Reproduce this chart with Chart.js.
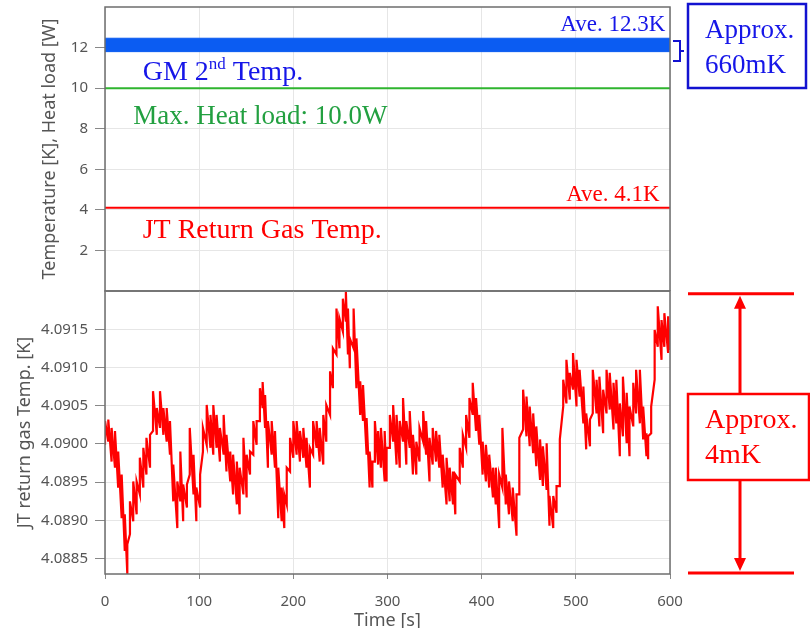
<!DOCTYPE html>
<html>
<head>
<meta charset="utf-8">
<script src="https://cdn.jsdelivr.net/npm/chart.js@4.4.1/dist/chart.umd.min.js"></script>
<style>
body { margin: 0; background: #fff; width: 810px; height: 628px; overflow: hidden; position: relative; }
canvas { position: absolute; left: 0; }
#topChart { top: 0; }
#bottomChart { top: 286px; }
</style>
</head>
<body>
<canvas id="topChart" width="810" height="292"></canvas>
<canvas id="bottomChart" width="810" height="342"></canvas>
<script>
// top panel: constant-ish traces over the whole run
var timeRange = [0, 600];
var gmTempHigh = [12.46, 12.46];
var gmTempLow = [11.80, 11.80];
var heatLoad = [10.0, 10.0];
var jtTempTop = [4.1, 4.1];
var topTicks = [2, 4, 6, 8, 10, 12];

// bottom panel: JT return gas temperature, low/high envelope of the noisy trace
var bottomTicks = [4.0885, 4.0890, 4.0895, 4.0900, 4.0905, 4.0910, 4.0915];
var timeTicks = [0, 100, 200, 300, 400, 500, 600];

var jtTime = [
  0, 3.5, 7, 10.6, 14, 17.7, 21, 23.7, 26.5, 30,
  33.6, 37, 40.7, 44, 47.8, 51, 55, 58.4, 62, 65.5,
  69, 72.5, 76.8, 80, 83, 87, 90, 94, 97, 101,
  104, 108, 112, 115, 118.5, 122, 126, 129, 133, 136,
  140, 143, 147, 150.4, 154, 157.5, 161, 164.5, 167.4, 170,
  173, 177, 180.5, 184, 187.6, 190.4, 193, 196.5, 200, 203.5,
  207, 210.6, 214, 217.6, 221, 224.7, 228, 231.8, 235, 239,
  242, 245.8, 249, 252.6, 255.8, 258, 260, 264, 267, 271,
  274, 277.8, 281, 284, 286.6, 290, 293, 297, 299, 302.5,
  306, 309.6, 313, 316.5, 320, 323.6, 327, 330.6, 334, 337.9,
  341, 344.6, 348, 351.6, 355, 358.6, 362.7, 366, 369.6, 372,
  376.7, 380, 383.5, 387, 390.5, 394, 397.5, 401, 404.5, 408,
  412, 415, 418.6, 422, 425.6, 429, 433, 437, 440, 444,
  447.6, 451, 454.7, 458, 462, 465, 469, 472, 476, 479.5,
  483, 486.6, 490, 493.6, 497, 500.7, 504, 508, 511, 515,
  518, 522, 525, 529, 532.6, 536, 540, 543, 546.7, 550,
  554, 557, 561, 564, 568, 571.5, 575, 576.8, 580, 583.7,
  587, 591, 594, 598, 600
];
var jtLow = [
  4.08999, 4.09003, 4.08977, 4.08969, 4.08943, 4.08903, 4.08860, 4.08830, 4.08882, 4.08899,
  4.08908, 4.08934, 4.08943, 4.08960, 4.08969, 4.09017, 4.09012, 4.09021, 4.09012, 4.09003,
  4.08986, 4.08925, 4.08890, 4.08925, 4.08899, 4.08917, 4.08960, 4.08934, 4.08899, 4.08917,
  4.08990, 4.08999, 4.08995, 4.08986, 4.08995, 4.08977, 4.08986, 4.08964, 4.08951, 4.08934,
  4.08921, 4.08908, 4.08934, 4.08930, 4.08960, 4.08986, 4.08999, 4.09030, 4.09047, 4.09021,
  4.08969, 4.08986, 4.08969, 4.08903, 4.08899, 4.08890, 4.08921, 4.08964, 4.08982, 4.08986,
  4.08977, 4.08982, 4.08969, 4.08943, 4.08986, 4.08995, 4.08977, 4.08973, 4.09003, 4.09038,
  4.09073, 4.09117, 4.09125, 4.09147, 4.09160, 4.09117, 4.09099, 4.09125, 4.09073, 4.09038,
  4.09030, 4.08986, 4.08943, 4.08943, 4.08977, 4.08973, 4.08969, 4.08951, 4.08951, 4.08995,
  4.09003, 4.08973, 4.08969, 4.09003, 4.08973, 4.08995, 4.08960, 4.08960, 4.08977, 4.09003,
  4.08986, 4.08951, 4.08973, 4.08977, 4.08969, 4.08943, 4.08921, 4.08925, 4.08921, 4.08908,
  4.08951, 4.08969, 4.08995, 4.09008, 4.09038, 4.09017, 4.08999, 4.08960, 4.08951, 4.08943,
  4.08930, 4.08921, 4.08890, 4.08943, 4.08921, 4.08908, 4.08899, 4.08880, 4.08934, 4.09019,
  4.09010, 4.08997, 4.08988, 4.08971, 4.08953, 4.08945, 4.08940, 4.08893, 4.08890, 4.08910,
  4.08945, 4.09049, 4.09053, 4.09058, 4.09071, 4.09049, 4.09062, 4.09027, 4.08993, 4.08997,
  4.09040, 4.09040, 4.09023, 4.09014, 4.09040, 4.09045, 4.09019, 4.09027, 4.08984, 4.09010,
  4.09001, 4.08984, 4.09023, 4.09040, 4.09027, 4.09006, 4.08984, 4.08980, 4.09014, 4.09084,
  4.09127, 4.09110, 4.09127, 4.09119, 4.09123
];
var jtHigh = [
  4.09030, 4.09032, 4.09021, 4.09017, 4.08990, 4.08960, 4.08908, 4.08869, 4.08925, 4.08951,
  4.08951, 4.08982, 4.08995, 4.09008, 4.09012, 4.09069, 4.09047, 4.09069, 4.09047, 4.09047,
  4.09030, 4.08973, 4.08951, 4.08990, 4.08947, 4.08947, 4.09021, 4.08986, 4.08943, 4.08960,
  4.09021, 4.09051, 4.09038, 4.09051, 4.09038, 4.09021, 4.09038, 4.09012, 4.08990, 4.08986,
  4.08977, 4.08969, 4.09008, 4.08986, 4.08990, 4.09030, 4.09030, 4.09073, 4.09081, 4.09064,
  4.09030, 4.09030, 4.09017, 4.08969, 4.08943, 4.08934, 4.08969, 4.09008, 4.09030, 4.09030,
  4.09017, 4.09021, 4.09008, 4.08995, 4.09030, 4.09030, 4.09021, 4.09038, 4.09051, 4.09095,
  4.09125, 4.09177, 4.09164, 4.09190, 4.09199, 4.09177, 4.09138, 4.09177, 4.09138, 4.09082,
  4.09077, 4.09034, 4.08990, 4.08977, 4.09030, 4.09017, 4.09021, 4.09017, 4.08995, 4.09038,
  4.09051, 4.09038, 4.09030, 4.09060, 4.09030, 4.09043, 4.09012, 4.09003, 4.09021, 4.09043,
  4.09030, 4.09008, 4.09021, 4.09017, 4.09012, 4.08986, 4.08982, 4.08969, 4.08964, 4.08960,
  4.08995, 4.09012, 4.09038, 4.09060, 4.09080, 4.09060, 4.09038, 4.09003, 4.08999, 4.08986,
  4.08969, 4.08969, 4.08960, 4.09021, 4.08960, 4.08951, 4.08943, 4.08934, 4.09008, 4.09071,
  4.09062, 4.09049, 4.09040, 4.09023, 4.09006, 4.08997, 4.09001, 4.08932, 4.08932, 4.08945,
  4.09006, 4.09084, 4.09110, 4.09093, 4.09119, 4.09110, 4.09097, 4.09075, 4.09040, 4.09032,
  4.09097, 4.09084, 4.09088, 4.09071, 4.09097, 4.09093, 4.09080, 4.09084, 4.09053, 4.09088,
  4.09067, 4.09049, 4.09080, 4.09097, 4.09097, 4.09049, 4.09014, 4.09010, 4.09049, 4.09149,
  4.09180, 4.09162, 4.09171, 4.09167, 4.09149
];

var sansFont = "'Noto Sans', sans-serif";
var axisGray = '#555555';
var gridGray = '#e6e6e6';
var bandBlue = '#0b5cf2';
var textBlue = '#1616e8';
var boxBlue = '#1212d0';
var lineGreen = '#2fb52f';
var textGreen = '#22a040';
var red = '#ff0000';

Chart.defaults.font.family = sansFont;
Chart.defaults.color = axisGray;

function serif(size) {
  return size + "px 'Liberation Serif', 'Times New Roman', serif";
}
function pairs(xs, ys) {
  return xs.map(function (x, i) { return { x: x, y: ys[i] }; });
}
// keep the plot box exactly where the axes say, no extra label padding
function fixYAxis(scale) {
  scale.width = 105;
  scale.paddingTop = 0;
  scale.paddingBottom = 0;
}

// vertical stroke at each sample from low to high, so the trace looks as dense as the logger output
var jtPoints = [];
jtTime.forEach(function (t, i) {
  jtPoints.push({ x: t, y: jtLow[i] });
  jtPoints.push({ x: t, y: jtHigh[i] });
});

var framePlugin = {
  id: 'frame',
  afterDatasetsDraw: function (chart) {
    var a = chart.chartArea;
    var ctx = chart.ctx;
    ctx.save();
    ctx.strokeStyle = '#6e6e6e';
    ctx.lineWidth = 1.5;
    ctx.strokeRect(a.left, a.top, a.right - a.left, a.bottom - a.top);
    ctx.restore();
  }
};

var topNotesPlugin = {
  id: 'topNotes',
  afterDraw: function (chart) {
    var ctx = chart.ctx;
    var sx = chart.scales.x;
    var sy = chart.scales.y;
    ctx.save();
    ctx.textBaseline = 'alphabetic';

    ctx.fillStyle = textBlue;
    ctx.font = serif(23);
    ctx.textAlign = 'right';
    ctx.fillText('Ave. 12.3K', sx.getPixelForValue(595), sy.getPixelForValue(12.83));

    ctx.textAlign = 'left';
    var gx = sx.getPixelForValue(40);
    var gy = sy.getPixelForValue(10.4);
    ctx.font = serif(28);
    ctx.fillText('GM 2', gx, gy);
    gx += ctx.measureText('GM 2').width;
    ctx.font = serif(17);
    ctx.fillText('nd', gx, gy - 11);
    gx += ctx.measureText('nd').width;
    ctx.font = serif(28);
    ctx.fillText(' Temp.', gx, gy);

    ctx.fillStyle = textGreen;
    ctx.font = serif(27);
    ctx.fillText('Max. Heat load: 10.0W', sx.getPixelForValue(30), sy.getPixelForValue(8.23));

    ctx.fillStyle = red;
    ctx.font = serif(23);
    ctx.textAlign = 'right';
    ctx.fillText('Ave. 4.1K', sx.getPixelForValue(589), sy.getPixelForValue(4.45));
    ctx.textAlign = 'left';
    ctx.font = serif(28);
    ctx.fillText('JT Return Gas Temp.', sx.getPixelForValue(40), sy.getPixelForValue(2.6));

    // bracket and box outside the plot
    ctx.strokeStyle = boxBlue;
    ctx.lineWidth = 2;
    ctx.beginPath();
    ctx.moveTo(673, 41);
    ctx.lineTo(680, 41);
    ctx.lineTo(680, 61);
    ctx.lineTo(673, 61);
    ctx.moveTo(680, 51);
    ctx.lineTo(684, 51);
    ctx.stroke();
    ctx.lineWidth = 2.5;
    ctx.strokeRect(688, 4, 118, 84);
    ctx.fillStyle = textBlue;
    ctx.font = serif(27);
    ctx.fillText('Approx.', 705, 38);
    ctx.fillText('660mK', 705, 73);
    ctx.restore();
  }
};

var rangePlugin = {
  id: 'range',
  afterDraw: function (chart) {
    var ctx = chart.ctx;
    var sy = chart.scales.y;
    var yTop = sy.getPixelForValue(Math.max.apply(null, jtHigh)) + 2;
    var yBot = sy.getPixelForValue(Math.min.apply(null, jtLow)) - 1;
    var ax = 740;
    var boxTop = 108;
    var boxBot = 194;
    ctx.save();
    ctx.strokeStyle = red;
    ctx.fillStyle = red;
    ctx.lineWidth = 3;
    ctx.beginPath();
    ctx.moveTo(688, yTop); ctx.lineTo(794, yTop);
    ctx.moveTo(688, yBot); ctx.lineTo(794, yBot);
    ctx.moveTo(ax, yTop + 12); ctx.lineTo(ax, boxTop);
    ctx.moveTo(ax, boxBot); ctx.lineTo(ax, yBot - 12);
    ctx.stroke();
    ctx.beginPath();
    ctx.moveTo(ax, yTop + 2); ctx.lineTo(ax - 6, yTop + 15); ctx.lineTo(ax + 6, yTop + 15); ctx.closePath();
    ctx.moveTo(ax, yBot - 2); ctx.lineTo(ax - 6, yBot - 15); ctx.lineTo(ax + 6, yBot - 15); ctx.closePath();
    ctx.fill();
    ctx.lineWidth = 2.5;
    ctx.strokeRect(688, boxTop, 121, boxBot - boxTop);
    ctx.font = serif(28);
    ctx.textAlign = 'left';
    ctx.fillText('Approx.', 705, 142);
    ctx.fillText('4mK', 705, 177);
    ctx.restore();
  }
};

let topChart = new Chart(document.getElementById('topChart'), {
  type: 'line',
  data: {
    datasets: [
      { data: pairs(timeRange, gmTempHigh), borderColor: bandBlue, backgroundColor: bandBlue, borderWidth: 1, pointRadius: 0, fill: '+1' },
      { data: pairs(timeRange, gmTempLow), borderColor: bandBlue, borderWidth: 1, pointRadius: 0, fill: false },
      { data: pairs(timeRange, heatLoad), borderColor: lineGreen, borderWidth: 2, pointRadius: 0, fill: false },
      { data: pairs(timeRange, jtTempTop), borderColor: red, borderWidth: 2, pointRadius: 0, fill: false }
    ]
  },
  options: {
    responsive: false,
    animation: false,
    devicePixelRatio: 1,
    layout: { padding: { top: 7, right: 140, bottom: 1, left: 0 } },
    plugins: { legend: { display: false }, tooltip: { enabled: false } },
    scales: {
      x: {
        type: 'linear', min: 0, max: 600,
        afterBuildTicks: function (axis) { axis.ticks = timeTicks.map(function (v) { return { value: v }; }); },
        ticks: { display: false },
        grid: { color: gridGray, drawTicks: false },
        border: { display: false },
        afterFit: function (scale) { scale.height = 0; scale.paddingLeft = 0; scale.paddingRight = 0; }
      },
      y: {
        min: 0, max: 14,
        afterBuildTicks: function (axis) { axis.ticks = topTicks.map(function (v) { return { value: v }; }); },
        ticks: { color: axisGray, font: { size: 15 }, padding: 7 },
        grid: { color: gridGray, tickLength: 10, tickColor: '#888888' },
        border: { display: false },
        title: { display: true, text: 'Temperature [K], Heat load [W]', color: axisGray, font: { size: 18 }, padding: { top: 39, bottom: 0 } },
        afterFit: fixYAxis
      }
    }
  },
  plugins: [framePlugin, topNotesPlugin]
});

let bottomChart = new Chart(document.getElementById('bottomChart'), {
  type: 'line',
  data: {
    datasets: [
      { data: jtPoints, borderColor: red, borderWidth: 2.2, pointRadius: 0, fill: false, tension: 0 }
    ]
  },
  options: {
    responsive: false,
    animation: false,
    devicePixelRatio: 1,
    layout: { padding: { top: 5, right: 140, bottom: 0, left: 0 } },
    plugins: { legend: { display: false }, tooltip: { enabled: false } },
    scales: {
      x: {
        type: 'linear', min: 0, max: 600,
        afterBuildTicks: function (axis) { axis.ticks = timeTicks.map(function (v) { return { value: v }; }); },
        ticks: { color: axisGray, font: { size: 15 }, padding: 14 },
        grid: { color: gridGray, tickLength: 5, tickColor: '#888888' },
        border: { display: false },
        title: { display: true, text: 'Time [s]', color: axisGray, font: { size: 18 }, padding: { top: 0, bottom: -4 } },
        afterFit: function (scale) { scale.height = 54; scale.paddingLeft = 0; scale.paddingRight = 0; }
      },
      y: {
        min: 4.0883, max: 4.0920,
        afterBuildTicks: function (axis) { axis.ticks = bottomTicks.map(function (v) { return { value: v }; }); },
        ticks: { color: axisGray, font: { size: 15 }, padding: 7, callback: function (v) { return v.toFixed(4); } },
        grid: { color: gridGray, tickLength: 10, tickColor: '#888888' },
        border: { display: false },
        title: { display: true, text: 'JT return gas Temp. [K]', color: axisGray, font: { size: 18 }, padding: { top: 14, bottom: 0 } },
        afterFit: fixYAxis
      }
    }
  },
  plugins: [framePlugin, rangePlugin]
});
</script>
</body>
</html>
